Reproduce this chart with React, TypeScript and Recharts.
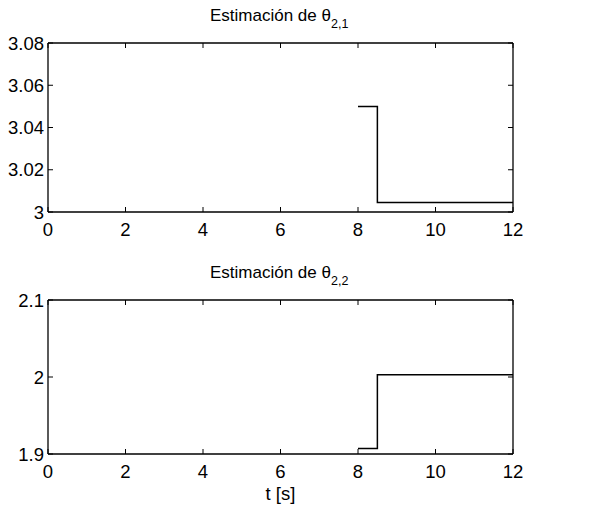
import React from 'react';
import { LineChart, Line, XAxis, YAxis } from 'recharts';

const timeSteps = [8, 8.5, 12];
const theta21 = [3.05, 3.0045, 3.0045];
const theta22 = [1.907, 2.003, 2.003];
const xTicks = [0, 2, 4, 6, 8, 10, 12];
const y1Ticks = [3, 3.02, 3.04, 3.06, 3.08];
const y2Ticks = [1.9, 2, 2.1];

const data1 = timeSteps.map((t, i) => ({ t, v: theta21[i] }));
const data2 = timeSteps.map((t, i) => ({ t, v: theta22[i] }));

const FONT = '"Liberation Sans", Arial, Helvetica, sans-serif';
const FS = 18.5;
const TL = 5;
const AX = { stroke: '#000', strokeWidth: 1.3 };

const BottomTick = (props: any) => {
  const { x, y, payload } = props;
  return (
    <g>
      <line x1={x} y1={y} x2={x} y2={y - TL} stroke="#000" strokeWidth={1} />
      <text x={x} y={y + 23.5} textAnchor="middle" fontSize={FS} fontFamily={FONT} fill="#000">
        {String(payload.value)}
      </text>
    </g>
  );
};

const TopTick = (props: any) => {
  const { x, y } = props;
  return <line x1={x} y1={y} x2={x} y2={y + TL} stroke="#000" strokeWidth={1} />;
};

const LeftTick = (props: any) => {
  const { x, y, payload } = props;
  return (
    <g>
      <line x1={x} y1={y} x2={x + TL} y2={y} stroke="#000" strokeWidth={1} />
      <text x={x - 4} y={y + 6.5} textAnchor="end" fontSize={FS} fontFamily={FONT} fill="#000">
        {String(payload.value)}
      </text>
    </g>
  );
};

const RightTick = (props: any) => {
  const { x, y } = props;
  return <line x1={x} y1={y} x2={x - TL} y2={y} stroke="#000" strokeWidth={1} />;
};

function Panel({ data, yTicks, height, margin, xLabel }: any) {
  const yDomain = [yTicks[0], yTicks[yTicks.length - 1]];
  return (
    <LineChart width={593} height={height} data={data} margin={margin}>
      <XAxis
        dataKey="t"
        type="number"
        domain={[0, 12]}
        ticks={xTicks}
        interval={0}
        tickSize={0}
        tickMargin={0}
        tickLine={false}
        axisLine={AX}
        tick={BottomTick}
        height={xLabel ? 50 : 30}
        label={
          xLabel
            ? { value: xLabel, position: 'insideBottom', offset: 4, fontSize: FS, fontFamily: FONT, fill: '#000' }
            : undefined
        }
      />
      <XAxis
        xAxisId="top"
        orientation="top"
        dataKey="t"
        type="number"
        domain={[0, 12]}
        ticks={xTicks}
        interval={0}
        tickSize={0}
        tickMargin={0}
        tickLine={false}
        axisLine={AX}
        tick={TopTick}
        height={1}
      />
      <YAxis
        type="number"
        domain={yDomain}
        ticks={yTicks}
        interval={0}
        allowDataOverflow
        tickSize={0}
        tickMargin={0}
        tickLine={false}
        axisLine={AX}
        tick={LeftTick}
        width={48}
      />
      <YAxis
        yAxisId="r"
        orientation="right"
        type="number"
        domain={yDomain}
        ticks={yTicks}
        interval={0}
        allowDataOverflow
        tickSize={0}
        tickMargin={0}
        tickLine={false}
        axisLine={AX}
        tick={RightTick}
        width={1}
      />
      <Line
        type="stepAfter"
        dataKey="v"
        stroke="#000"
        strokeWidth={1.5}
        dot={false}
        activeDot={false}
        isAnimationActive={false}
      />
    </LineChart>
  );
}

export default function App() {
  return (
    <div
      style={{
        position: 'absolute',
        left: 0,
        top: 0,
        width: 593,
        height: 507,
        background: '#fff',
        fontFamily: FONT,
      }}
    >
      <div style={{ position: 'absolute', left: 0, top: 0 }}>
        <Panel data={data1} yTicks={y1Ticks} height={250} margin={{ top: 42, right: 79, bottom: 8, left: 0 }} />
      </div>
      <div style={{ position: 'absolute', left: 0, top: 250 }}>
        <Panel
          data={data2}
          yTicks={y2Ticks}
          height={257}
          margin={{ top: 49, right: 79, bottom: 3, left: 0 }}
          xLabel="t [s]"
        />
      </div>
      <svg
        width={593}
        height={507}
        style={{ position: 'absolute', left: 0, top: 0, pointerEvents: 'none' }}
      >
        <text x={210} y={21} fontSize={17} fontFamily={FONT} fill="#000">
          Estimación de θ
          <tspan fontSize={12.5} dy={7}>2,1</tspan>
        </text>
        <text x={210} y={278} fontSize={17} fontFamily={FONT} fill="#000">
          Estimación de θ
          <tspan fontSize={12.5} dy={7}>2,2</tspan>
        </text>
      </svg>
    </div>
  );
}
